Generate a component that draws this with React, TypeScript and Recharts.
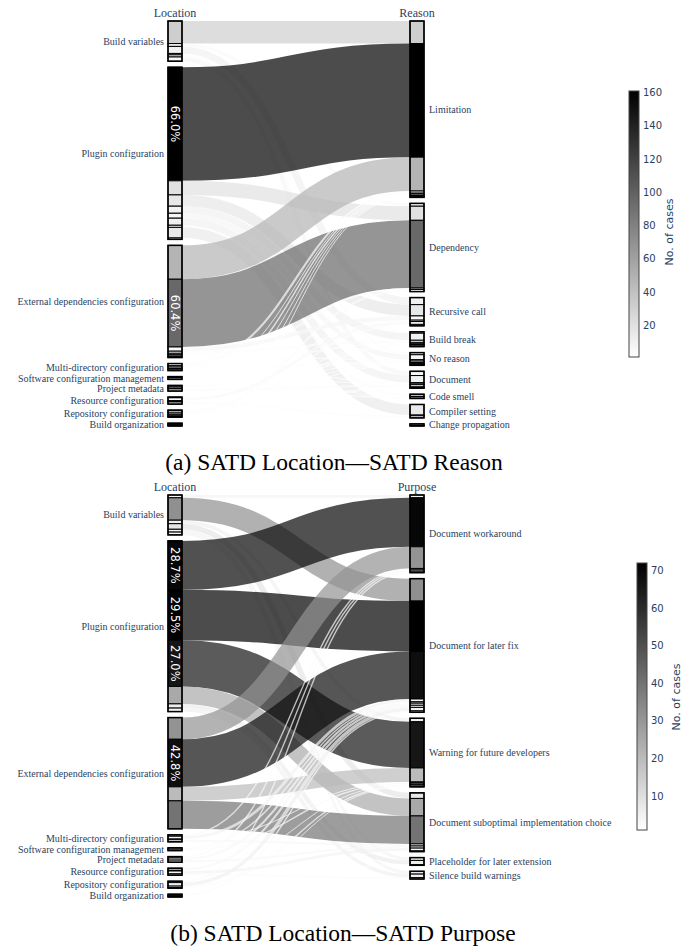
import React from 'react';
import { Sankey } from 'recharts';

const locations = [
  'Build variables',
  'Plugin configuration',
  'External dependencies configuration',
  'Multi-directory configuration',
  'Software configuration management',
  'Project metadata',
  'Resource configuration',
  'Repository configuration',
  'Build organization',
];

const reasons = [
  'Limitation',
  'Dependency',
  'Recursive call',
  'Build break',
  'No reason',
  'Document',
  'Code smell',
  'Compiler setting',
  'Change propagation',
];

const purposes = [
  'Document workaround',
  'Document for later fix',
  'Warning for future developers',
  'Document suboptimal implementation choice',
  'Placeholder for later extension',
  'Silence build warnings',
];

// rows: locations, columns: reasons
const reasonCounts: number[][] = [
  [32, 4, 10, 2, 3, 6, 0, 0, 0],
  [161, 20, 16, 10, 7, 10, 3, 15, 2],
  [48, 96, 6, 3, 2, 2, 1, 1, 0],
  [3, 2, 0, 2, 2, 1, 0, 0, 0],
  [1, 0, 0, 0, 1, 0, 2, 0, 0],
  [2, 0, 2, 0, 1, 3, 0, 0, 0],
  [1, 0, 4, 1, 1, 0, 0, 3, 0],
  [1, 3, 2, 2, 1, 1, 0, 0, 0],
  [1, 0, 0, 1, 0, 1, 0, 0, 1],
];

// rows: locations, columns: purposes
const purposeCounts: number[][] = [
  [4, 32, 5, 8, 4, 4],
  [70, 72, 66, 25, 6, 5],
  [31, 68, 20, 40, 0, 0],
  [2, 4, 1, 3, 0, 0],
  [0, 2, 2, 0, 0, 0],
  [2, 3, 0, 3, 0, 0],
  [0, 3, 1, 4, 0, 2],
  [2, 5, 2, 0, 1, 0],
  [0, 2, 1, 1, 0, 0],
];

// [location index, target index] of flows annotated with their share of the location
const reasonLabelled = [[1, 0], [2, 1]];
const purposeLabelled = [[1, 0], [1, 1], [1, 2], [2, 1]];

const reasonTicks = [20, 40, 60, 80, 100, 120, 140, 160];
const purposeTicks = [10, 20, 30, 40, 50, 60, 70];

const NODE_W = 14;
const LABEL_COLOR = '#2a3f5f';
const SERIF = '"Liberation Serif", "Times New Roman", serif';
const SANS = '"DejaVu Sans", Verdana, sans-serif';

type LinkDatum = { source: number; target: number; value: number; label: string };

function buildData(targets: string[], counts: number[][], labelled: number[][]) {
  const nodes = [...locations.map((name) => ({ name })), ...targets.map((name) => ({ name }))];
  const totals = counts.map((r) => r.reduce((a, b) => a + b, 0));
  const links: LinkDatum[] = [];
  counts.forEach((row, i) =>
    row.forEach((v, j) => {
      if (v > 0) {
        const isLab = labelled.some(([a, b]) => a === i && b === j);
        links.push({
          source: i,
          target: locations.length + j,
          value: v,
          label: isLab ? ((v / totals[i]) * 100).toFixed(1) + '%' : '',
        });
      }
    })
  );
  const values = links.map((l) => l.value);
  return { nodes, links, min: Math.min(...values), max: Math.max(...values) };
}

const grayOf = (v: number, min: number, max: number) => {
  const t = Math.max(0, Math.min(1, (v - min) / (max - min)));
  const g = Math.round(255 * (1 - t));
  return `rgb(${g},${g},${g})`;
};

const makeLink = (data: ReturnType<typeof buildData>) => (props: any) => {
  const { sourceX, targetX, sourceY, targetY, sourceControlX, targetControlX, linkWidth, index, payload } = props;
  const link = (payload && payload.value != null ? payload : data.links[index]) as LinkDatum;
  const fill = grayOf(link.value, data.min, data.max);
  const label = (payload && payload.label) || (data.links[index] && data.links[index].label) || '';
  const cx = sourceX - NODE_W / 2;
  return (
    <g>
      <path
        d={`M${sourceX},${sourceY}C${sourceControlX},${sourceY} ${targetControlX},${targetY} ${targetX},${targetY}`}
        fill="none"
        stroke={fill}
        strokeOpacity={0.7}
        strokeWidth={Math.max(linkWidth, 1)}
      />
      <rect x={sourceX - NODE_W} y={sourceY - linkWidth / 2} width={NODE_W} height={linkWidth} fill={fill} stroke="#000" strokeWidth={1} />
      <rect x={targetX} y={targetY - linkWidth / 2} width={NODE_W} height={linkWidth} fill={fill} stroke="#000" strokeWidth={1} />
      {label ? (
        <text
          x={cx}
          y={sourceY}
          transform={`rotate(90, ${cx}, ${sourceY})`}
          textAnchor="middle"
          dominantBaseline="central"
          fill="#fff"
          fontSize={11.5}
          fontFamily={SANS}
        >
          {label}
        </text>
      ) : null}
    </g>
  );
};

const makeNode = (rightHeader: string) => (props: any) => {
  const { x, y, width, height, index, payload } = props;
  const left = payload.depth === 0;
  const header = index === 0 ? 'Location' : index === locations.length ? rightHeader : '';
  return (
    <g>
      <rect x={x} y={y} width={width} height={height} fill="none" stroke="#000" strokeWidth={1.5} />
      <text
        x={left ? x - 4 : x + width + 5}
        y={y + height / 2}
        textAnchor={left ? 'end' : 'start'}
        dominantBaseline="central"
        fontSize={10}
        fontFamily={SERIF}
        fill={LABEL_COLOR}
      >
        {payload.name}
      </text>
      {header ? (
        <text x={x + width / 2} y={y - 4} textAnchor="middle" fontSize={12} fontFamily={SERIF} fill={LABEL_COLOR}>
          {header}
        </text>
      ) : null}
    </g>
  );
};

const ColorBar = ({ x, top, bottom, min, max, ticks, id, titleX, titleY }: any) => {
  const h = bottom - top;
  const yOf = (v: number) => bottom - ((v - min) / (max - min)) * h;
  return (
    <g>
      <defs>
        <linearGradient id={id} x1="0" y1="0" x2="0" y2="1">
          <stop offset="0%" stopColor="#000" />
          <stop offset="100%" stopColor="#fff" />
        </linearGradient>
      </defs>
      <rect x={x} y={top} width={10} height={h} fill={`url(#${id})`} stroke="#444" strokeWidth={1} />
      {ticks.map((t: number) => (
        <text key={t} x={x + 14} y={yOf(t)} dominantBaseline="central" fontSize={10} fontFamily={SANS} fill={LABEL_COLOR}>
          {t}
        </text>
      ))}
      <text
        x={titleX}
        y={titleY}
        transform={`rotate(-90, ${titleX}, ${titleY})`}
        textAnchor="middle"
        dominantBaseline="central"
        fontSize={11}
        fontFamily={SANS}
        fill={LABEL_COLOR}
      >
        No. of cases
      </text>
    </g>
  );
};

const reasonData = buildData(reasons, reasonCounts, reasonLabelled);
const purposeData = buildData(purposes, purposeCounts, purposeLabelled);

export default function App() {
  return (
    <div style={{ position: 'absolute', left: 0, top: 0, width: 687, height: 947, background: '#fff' }}>
      <div style={{ position: 'absolute', left: 0, top: 0 }}>
        <Sankey
          width={687}
          height={440}
          data={{ nodes: reasonData.nodes, links: reasonData.links }}
          nodeWidth={NODE_W}
          nodePadding={6}
          iterations={0}
          margin={{ top: 21, bottom: 14, left: 168, right: 263 }}
          node={makeNode('Reason')}
          link={makeLink(reasonData)}
        />
      </div>
      <div style={{ position: 'absolute', left: 0, top: 470 }}>
        <Sankey
          width={687}
          height={440}
          data={{ nodes: purposeData.nodes, links: purposeData.links }}
          nodeWidth={NODE_W}
          nodePadding={6}
          iterations={0}
          margin={{ top: 25, bottom: 13, left: 168, right: 263 }}
          node={makeNode('Purpose')}
          link={makeLink(purposeData)}
        />
      </div>
      <svg width={687} height={947} style={{ position: 'absolute', left: 0, top: 0, pointerEvents: 'none' }}>
        <ColorBar x={629} top={91} bottom={357} min={reasonData.min} max={reasonData.max} ticks={reasonTicks} id="cbTop" titleX={669} titleY={232} />
        <ColorBar x={637} top={563} bottom={830} min={purposeData.min} max={purposeData.max} ticks={purposeTicks} id="cbBottom" titleX={676} titleY={697} />
        <text x={334} y={470} textAnchor="middle" fontSize={23.5} fontFamily={SERIF} fill="#000">
          (a) SATD Location—SATD Reason
        </text>
        <text x={343} y={941} textAnchor="middle" fontSize={23.5} fontFamily={SERIF} fill="#000">
          (b) SATD Location—SATD Purpose
        </text>
      </svg>
    </div>
  );
}
